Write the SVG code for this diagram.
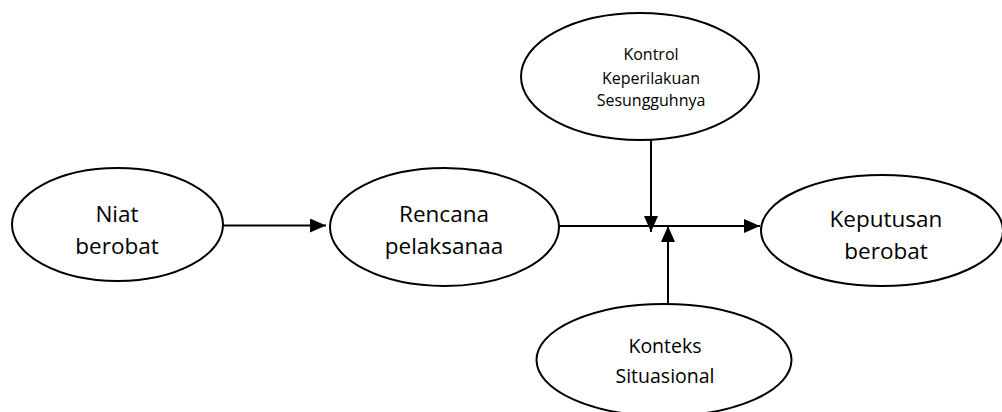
<svg xmlns="http://www.w3.org/2000/svg" width="1002" height="412" viewBox="0 0 1002 412">
<style>
.n{fill:#fff;stroke:#000;stroke-width:2}
.t{font-family:"Open Sans","Liberation Sans",sans-serif;fill:#000;text-anchor:middle}
.big{font-size:22.5px}
.mid{font-size:19.5px}
.sm{font-size:16px}
.c{stroke:#000;stroke-width:2;fill:none;marker-end:url(#ah)}
</style>
<defs>
<marker id="ah" markerUnits="userSpaceOnUse" markerWidth="16" markerHeight="14" refX="16" refY="7" orient="auto">
<path d="M0,0 L16,7 L0,14 Z" fill="#000"/>
</marker>
</defs>
<rect width="1002" height="412" fill="#fff"/>
<g id="connectors">
<line class="c" x1="223" y1="225.5" x2="326" y2="225.5"/>
<line class="c" x1="559" y1="226" x2="760" y2="226"/>
<line class="c" x1="651" y1="140" x2="651" y2="232"/>
<line class="c" x1="668" y1="305" x2="668" y2="226"/>
</g>
<g id="niat">
<ellipse class="n" cx="117.5" cy="224.5" rx="105.5" ry="56.5"/>
<text class="t big" x="117" y="222">Niat</text>
<text class="t big" x="117" y="254">berobat</text>
</g>
<g id="rencana">
<ellipse class="n" cx="444.5" cy="227" rx="114.5" ry="59"/>
<text class="t big" x="444" y="222">Rencana</text>
<text class="t big" x="444" y="254">pelaksanaa</text>
</g>
<g id="kontrol">
<ellipse class="n" cx="640" cy="76.5" rx="119" ry="63.5"/>
<text class="t sm" x="651" y="60">Kontrol</text>
<text class="t sm" x="651" y="84">Keperilakuan</text>
<text class="t sm" x="651" y="106">Sesungguhnya</text>
</g>
<g id="keputusan">
<ellipse class="n" cx="882" cy="230.5" rx="121" ry="55.5"/>
<text class="t big" x="886" y="227">Keputusan</text>
<text class="t big" x="886" y="259">berobat</text>
</g>
<g id="konteks">
<ellipse class="n" cx="664" cy="360" rx="127.5" ry="56"/>
<text class="t mid" x="665" y="353">Konteks</text>
<text class="t mid" x="665" y="383">Situasional</text>
</g>
</svg>
